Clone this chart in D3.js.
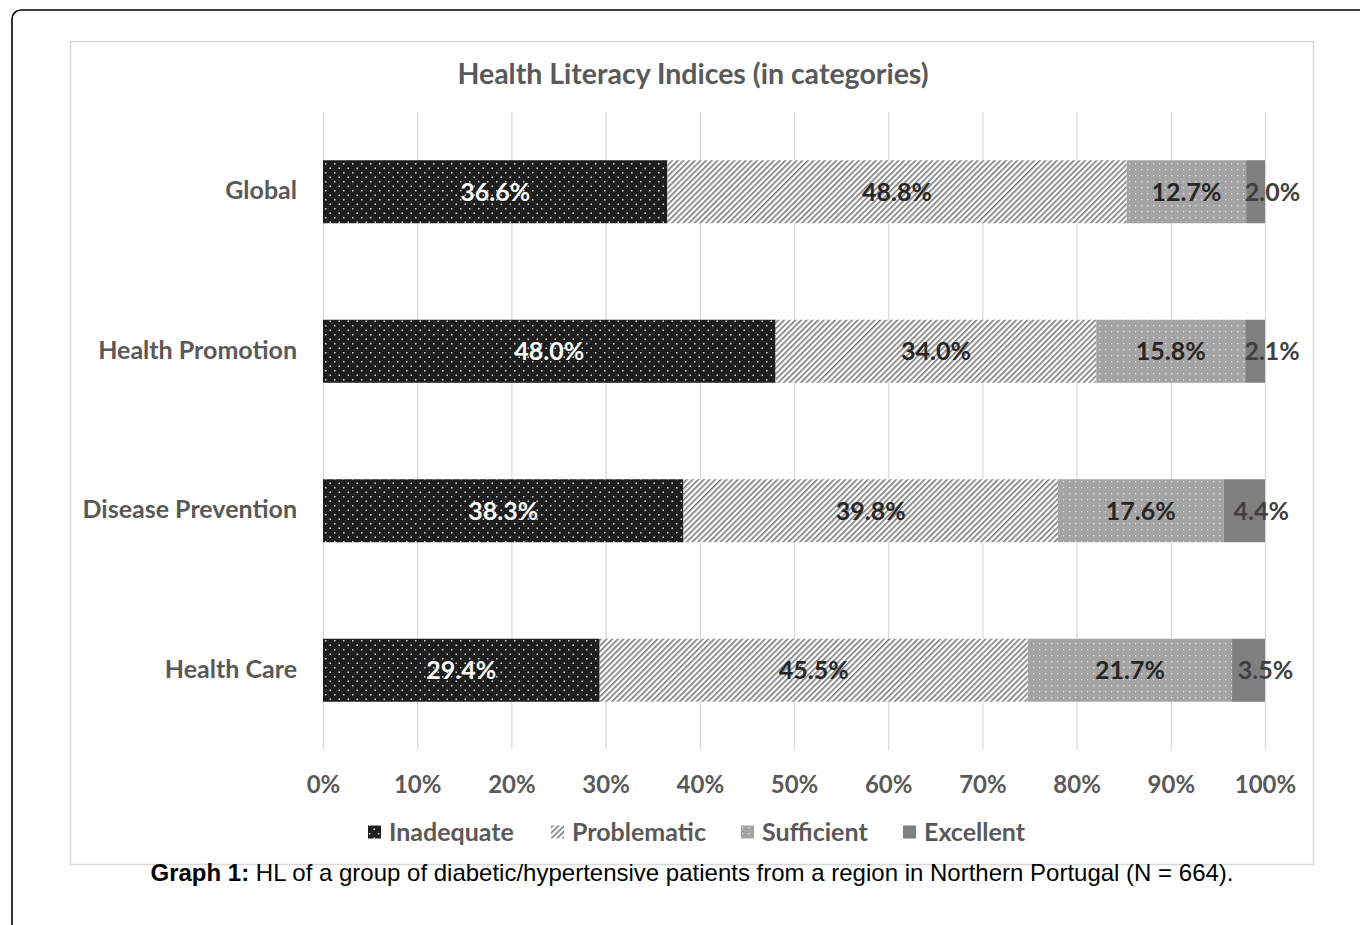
<!DOCTYPE html>
<html>
<head>
<meta charset="utf-8">
<script src="https://cdn.jsdelivr.net/npm/d3@7"></script>
<style>
  html, body { margin: 0; padding: 0; background: #fff; overflow: hidden; }
  svg { display: block; }
</style>
</head>
<body>
<svg id="chart" width="1360" height="925"></svg>
<script>
const categories = ["Global", "Health Promotion", "Disease Prevention", "Health Care"];
const seriesNames = ["Inadequate", "Problematic", "Sufficient", "Excellent"];
const inadequate = [36.6, 48.0, 38.3, 29.4];
const problematic = [48.8, 34.0, 39.8, 45.5];
const sufficient = [12.7, 15.8, 17.6, 21.7];
const excellent = [2.0, 2.1, 4.4, 3.5];
const xTicks = [0, 0.1, 0.2, 0.3, 0.4, 0.5, 0.6, 0.7, 0.8, 0.9, 1.0];
const titleText = "Health Literacy Indices (in categories)";
const captionBold = "Graph 1:";
const captionRest = " HL of a group of diabetic/hypertensive patients from a region in Northern Portugal (N = 664).";

const seriesValues = [inadequate, problematic, sufficient, excellent];
const rows = categories.map((c, i) => {
  const r = { cat: c };
  seriesNames.forEach((s, k) => r[s] = seriesValues[k][i]);
  return r;
});

const svg = d3.select("#chart");
const defs = svg.append("defs");

// patterns
const p1 = defs.append("pattern").attr("id", "pInad").attr("patternUnits", "userSpaceOnUse")
  .attr("width", 9).attr("height", 9);
p1.append("rect").attr("width", 9).attr("height", 9).attr("fill", "#1e1e1e");
p1.append("rect").attr("x", 1).attr("y", 1).attr("width", 1.5).attr("height", 1.5).attr("fill", "#d8d8d8");
p1.append("rect").attr("x", 5.5).attr("y", 5.5).attr("width", 1.5).attr("height", 1.5).attr("fill", "#d8d8d8");

const p2 = defs.append("pattern").attr("id", "pProb").attr("patternUnits", "userSpaceOnUse")
  .attr("width", 4).attr("height", 4).attr("patternTransform", "rotate(45)");
p2.append("rect").attr("width", 4).attr("height", 4).attr("fill", "#ffffff");
p2.append("rect").attr("x", 0).attr("y", 0).attr("width", 1.6).attr("height", 4).attr("fill", "#7a7a7a");

const p3 = defs.append("pattern").attr("id", "pSuff").attr("patternUnits", "userSpaceOnUse")
  .attr("width", 6).attr("height", 6);
p3.append("rect").attr("width", 6).attr("height", 6).attr("fill", "#a3a3a3");
p3.append("rect").attr("x", 1).attr("y", 1).attr("width", 1.3).attr("height", 1.3).attr("fill", "#e6e6e6");

const fills = ["url(#pInad)", "url(#pProb)", "url(#pSuff)", "#7f7f7f"];
const labelColors = ["#ffffff", "#262626", "#262626", "#404040"];

// outer frame
svg.append("rect").attr("x", 12).attr("y", 10).attr("width", 1500).attr("height", 1100)
  .attr("rx", 9).attr("fill", "none").attr("stroke", "#000").attr("stroke-width", 1.6);

// inner chart box
svg.append("rect").attr("x", 70.5).attr("y", 41.5).attr("width", 1243).attr("height", 823)
  .attr("fill", "#fff").attr("stroke", "#d9d9d9").attr("stroke-width", 1.5);

const margin = { left: 323, right: 1265, top: 112, bottom: 750 };
const x = d3.scaleLinear().domain([0, 1]).range([margin.left, margin.right]);
const y = d3.scaleBand().domain(categories).range([margin.top, margin.bottom]).paddingInner(0.605).paddingOuter(0.3025);

const font = "Lato, 'Open Sans', sans-serif";
const gray = "#595959";

// title
svg.append("text").attr("x", 693).attr("y", 84).attr("text-anchor", "middle")
  .attr("font-family", font).attr("font-weight", 700).attr("font-size", 28.5)
  .attr("fill", gray).text(titleText);

// gridlines
const xAxisGrid = d3.axisBottom(x).tickValues(xTicks).tickSize(-(margin.bottom - margin.top)).tickFormat("");
const gg = svg.append("g").attr("transform", `translate(0,${margin.bottom})`).call(xAxisGrid);
gg.select(".domain").remove();
gg.selectAll("line").attr("stroke", "#d9d9d9").attr("stroke-width", 1.2);

// x tick labels
const xAxis = d3.axisBottom(x).tickValues(xTicks).tickSize(0).tickFormat(d3.format(".0%"));
const xg = svg.append("g").attr("transform", `translate(0,${margin.bottom})`).call(xAxis);
xg.select(".domain").remove();
xg.selectAll("text").attr("y", 26).attr("font-family", font).attr("font-weight", 700)
  .attr("font-size", 24).attr("fill", gray);

// y labels
const yAxis = d3.axisLeft(y).tickSize(0);
const yg = svg.append("g").attr("transform", `translate(${margin.left - 23},0)`).call(yAxis);
yg.select(".domain").remove();
yg.selectAll("text").attr("font-family", font).attr("font-weight", 700)
  .attr("font-size", 25).attr("fill", gray).attr("dy", "0.3em");

// stacked normalized
const stack = d3.stack().keys(seriesNames).offset(d3.stackOffsetExpand);
const stacked = stack(rows);

const layers = svg.append("g").selectAll("g").data(stacked).join("g")
  .attr("fill", (d, i) => fills[i]);
layers.selectAll("rect").data(d => d).join("rect")
  .attr("x", d => x(d[0])).attr("width", d => x(d[1]) - x(d[0]))
  .attr("y", d => y(d.data.cat)).attr("height", y.bandwidth());

// labels
const labelG = svg.append("g");
stacked.forEach((layer, i) => {
  labelG.selectAll(null).data(layer).join("text")
    .attr("x", d => (x(d[0]) + x(d[1])) / 2 + (i === 3 ? 17 : 0))
    .attr("y", d => y(d.data.cat) + y.bandwidth() / 2)
    .attr("dy", "0.36em")
    .attr("text-anchor", "middle")
    .attr("font-family", font).attr("font-weight", 700).attr("font-size", 25)
    .attr("fill", labelColors[i])
    .text(d => d.data[layer.key].toFixed(1) + "%");
});

// legend
const legendFills = fills;
const lg = svg.append("g").attr("transform", "translate(0,832)");
const legendX = [368, 551, 741, 903];
seriesNames.forEach((s, i) => {
  const g = lg.append("g").attr("transform", `translate(${legendX[i]},0)`);
  g.append("rect").attr("x", 0).attr("y", -6.5).attr("width", 13).attr("height", 13).attr("fill", legendFills[i]);
  g.append("text").attr("x", 21).attr("y", 0).attr("dy", "0.36em")
    .attr("font-family", font).attr("font-weight", 700).attr("font-size", 25)
    .attr("fill", gray).text(s);
});

// caption
const cap = svg.append("text").attr("x", 692).attr("y", 881).attr("text-anchor", "middle")
  .attr("font-family", "'Liberation Sans', Arial, sans-serif").attr("font-size", 24).attr("fill", "#000");
cap.append("tspan").attr("font-weight", 700).text(captionBold);
cap.append("tspan").text(captionRest);
</script>
</body>
</html>
